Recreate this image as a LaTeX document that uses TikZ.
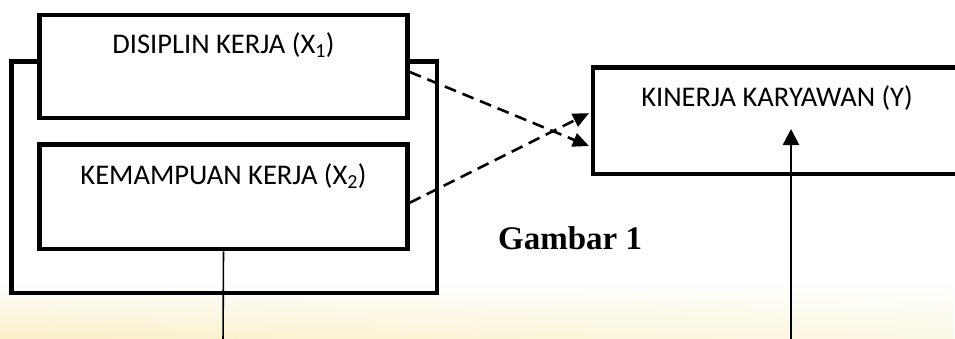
\documentclass[tikz,border=0pt]{standalone}
\usepackage{fontspec}
\setmainfont{Carlito}
\newfontfamily\capfont{Liberation Serif}
\usetikzlibrary{arrows.meta,fadings}
\definecolor{creamL}{RGB}{250,240,200}
\definecolor{creamR}{RGB}{252,249,230}
\begin{document}
\begin{tikzpicture}[x=1pt,y=-1pt,
  box/.style={draw=black, line width=4.5pt, fill=white, minimum width=368pt, inner sep=0pt},
  frame/.style={draw=black, line width=4.5pt, inner sep=0pt},
  lbl/.style={font=\fontsize{28.5}{34}\selectfont, inner sep=0pt, anchor=base},
  caption/.style={font=\capfont\bfseries\fontsize{33}{38}\selectfont, inner sep=0pt, anchor=base west},
  dasharrow/.style={line width=2.6pt, dash pattern=on 12pt off 7pt, shorten >=2pt, -{Triangle[length=16pt,width=14pt]}},
  solidarrow/.style={line width=2.5pt, -{Triangle[length=16pt,width=16pt]}},
  link/.style={line width=1.6pt}]
  \useasboundingbox (0,0) rectangle (955,338);
  \fill[white] (0,0) rectangle (955,338);
  \shade[left color=creamL, right color=creamR, path fading=north] (0,282) rectangle (955,338);

  % outer frame
  \node[frame, minimum width=425.5pt, minimum height=231.5pt] (outer) at (224.25,177.25) {};
  % boxes
  \node[box, minimum height=103pt] (x1) at (223.5,66.5) {};
  \node[box, minimum height=104.5pt] (x2) at (223.5,196.75) {};
  \node[box, minimum height=106.5pt] (ybox) at (777,120.75) {};

  % labels
  \node[lbl] (x1t) at (223.5,53.3) {DISIPLIN KERJA (X\textsubscript{1})};
  \node[lbl] (x2t) at (223.5,184.3) {KEMAMPUAN KERJA (X\textsubscript{2})};
  \node[lbl] (yt) at (777,106) {KINERJA KARYAWAN (Y)};
  \node[caption] (cap) at (498,249.3) {Gambar 1};

  % dashed arrows
  \draw[dasharrow] ([yshift=-5.5pt]x1.east) -- ([yshift=-26pt]ybox.west);
  \draw[dasharrow] ([yshift=-6pt]x2.east) -- ([yshift=8.5pt]ybox.west);

  % vertical lines
  \coordinate (x2bot) at (223,345);
  \draw[link] (x2.south) -- (x2bot);
  \coordinate (ybot) at (791,345);
  \coordinate (ytip) at (791,129);
  \draw[solidarrow] (ybot) -- (ytip);
\end{tikzpicture}
\end{document}
